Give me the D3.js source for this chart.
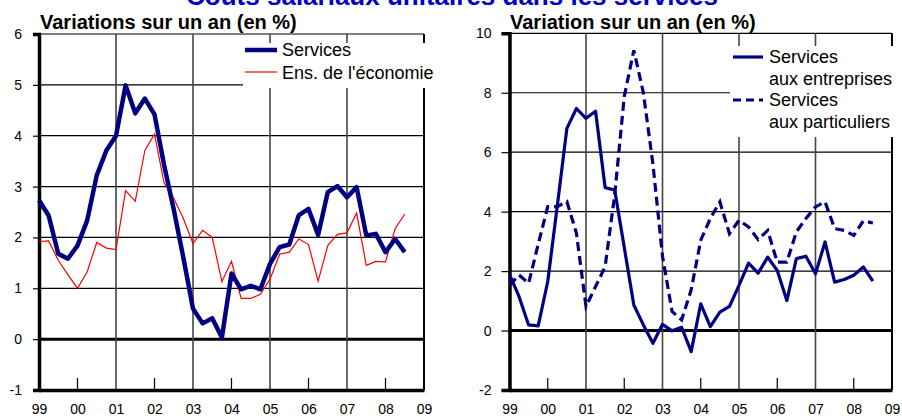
<!DOCTYPE html>
<html><head><meta charset="utf-8">
<script src="https://cdn.jsdelivr.net/npm/d3@7/dist/d3.min.js"></script>
<style>
html,body{margin:0;padding:0;background:#fff;}
svg{display:block;font-family:"Liberation Sans",Arial,sans-serif;}
</style></head>
<body>
<svg id="c" width="902" height="416"></svg>
<script>
const mainTitle = "Coûts salariaux unitaires dans les services";
const leftTitle = "Variations sur un an (en %)";
const rightTitle = "Variation sur un an (en %)";

const quarters = [
 "1999T1","1999T2","1999T3","1999T4","2000T1","2000T2","2000T3","2000T4",
 "2001T1","2001T2","2001T3","2001T4","2002T1","2002T2","2002T3","2002T4",
 "2003T1","2003T2","2003T3","2003T4","2004T1","2004T2","2004T3","2004T4",
 "2005T1","2005T2","2005T3","2005T4","2006T1","2006T2","2006T3","2006T4",
 "2007T1","2007T2","2007T3","2007T4","2008T1","2008T2","2008T3"];

const services = [2.73,2.43,1.68,1.58, 1.84,2.33,3.22,3.71, 4.00,4.99,4.44,4.73,
 4.42,3.42,2.55,1.60, 0.60,0.31,0.41,0.03, 1.29,0.98,1.05,0.98, 1.48,1.81,1.86,2.44,
 2.56,2.05,2.89,3.01, 2.79,2.99,2.04,2.07, 1.71,1.97,1.71];
const economie = [1.92,1.93,1.55,1.27, 1.00,1.32,1.90,1.79, 1.76,2.92,2.71,3.71,
 4.03,3.07,2.77,2.37, 1.88,2.14,2.00,1.13, 1.53,0.80,0.80,0.88, 1.18,1.67,1.71,1.97,
 1.86,1.14,1.84,2.06, 2.09,2.48,1.45,1.53, 1.52,2.17,2.46];
const entreprises = [1.89,1.14,0.19,0.16, 1.65,4.20,6.80,7.47, 7.14,7.38,4.81,4.73,
 2.80,0.86,0.19,-0.43, 0.21,-0.01,0.11,-0.71, 0.90,0.13,0.62,0.81, 1.52,2.27,1.93,2.47,
 2.02,1.01,2.42,2.50, 1.91,2.98,1.63,1.72, 1.86,2.14,1.66];
const particuliers = [1.53,1.87,1.59,2.90, 4.17,4.17,4.34,3.27, 0.81,1.48,2.15,4.56,
 7.87,9.43,8.00,5.60, 2.50,0.64,0.36,1.37, 3.04,3.77,4.33,3.26, 3.71,3.49,3.06,3.37,
 2.30,2.30,3.32,3.77, 4.16,4.33,3.43,3.37, 3.20,3.69,3.62];

const yearTicks = [1999,2000,2001,2002,2003,2004,2005,2006,2007,2008,2009];
const yearLabels = ["99","00","01","02","03","04","05","06","07","08","09"];
const leftYTicks = [-1,0,1,2,3,4,5,6];
const rightYTicks = [-2,0,2,4,6,8,10];
const leftLegend = ["Services","Ens. de l'économie"];
const rightLegend = [["Services","aux entreprises"],["Services","aux particuliers"]];

const NAVY = "#000080", RED = "#ff0000";
const svg = d3.select("#c");
const qx = q => +q.slice(0,4) + (+q.slice(5)-1)/4;

function panel(o){
  const x = d3.scaleLinear().domain([1999,2009]).range([o.x0,o.x1]);
  const y = d3.scaleLinear().domain(o.ydom).range([o.y0,o.y1]);
  const g = svg.append("g");
  g.selectAll(".hg").data(o.yticks).join("line")
    .attr("x1",x(1999)).attr("x2",x(2009))
    .attr("y1",d=>y(d)).attr("y2",d=>y(d))
    .attr("stroke","#000").attr("stroke-width",d=>d===0?3:1.2);
  g.selectAll(".vg").data(yearTicks.filter(d=>d%2===1 && d<2009)).join("line")
    .attr("x1",d=>x(d)).attr("x2",d=>x(d)).attr("y1",y(o.ydom[0])).attr("y2",y(o.ydom[1]))
    .attr("stroke","#444").attr("stroke-width",1.6);
  g.selectAll(".st").data(yearTicks.filter(d=>d%2===0)).join("line")
    .attr("x1",d=>x(d)).attr("x2",d=>x(d)).attr("y1",y(o.ydom[0])).attr("y2",y(o.ydom[0])-12)
    .attr("stroke","#000").attr("stroke-width",1.2);
  g.append("line").attr("x1",x(2009)).attr("x2",x(2009)).attr("y1",y(o.ydom[0])).attr("y2",y(o.ydom[1]))
    .attr("stroke","#000").attr("stroke-width",2);
  const ya = d3.axisLeft(y).tickValues(o.yticks).tickSize(o.tickLen).tickPadding(o.pad).tickFormat(d=>String(d));
  const yg = g.append("g").attr("transform",`translate(${x(1999)},0)`).call(ya);
  yg.select(".domain").attr("stroke","#000").attr("stroke-width",3.5);
  yg.selectAll(".tick line").attr("stroke","#000").attr("stroke-width",1.2);
  yg.selectAll("text").attr("font-size",14).attr("fill","#000");
  const xa = d3.axisBottom(x).tickValues(yearTicks).tickSize(0).tickPadding(14).tickFormat((d,i)=>yearLabels[i]);
  const xg = g.append("g").attr("transform",`translate(0,${y(o.ydom[0])})`).call(xa);
  xg.select(".domain").attr("stroke","#000").attr("stroke-width",3.5);
  xg.selectAll("text").attr("font-size",14).attr("fill","#000");
  return {x,y,g};
}

svg.append("text").attr("x",452).attr("y",5).attr("text-anchor","middle")
  .attr("font-size",26).attr("font-weight","bold").attr("fill","#0000cc").text(mainTitle);

// LEFT
const L = panel({x0:39,x1:424,y0:390,y1:34,ydom:[-1,6],yticks:leftYTicks,tickLen:6,pad:11});
svg.append("text").attr("x",40).attr("y",29).attr("font-size",20).attr("font-weight","bold").text(leftTitle);
L.g.append("rect").attr("x",243).attr("y",43).attr("width",197).attr("height",45).attr("fill","#fff");
const lineL = d3.line().x((d,i)=>L.x(qx(quarters[i]))).y(d=>L.y(d));
L.g.append("path").datum(economie).attr("d",lineL).attr("fill","none").attr("stroke",RED).attr("stroke-width",1.2);
L.g.append("path").datum(services).attr("d",lineL).attr("fill","none").attr("stroke",NAVY).attr("stroke-width",4.5).attr("stroke-linejoin","round");
L.g.append("line").attr("x1",245).attr("x2",277).attr("y1",50).attr("y2",50).attr("stroke",NAVY).attr("stroke-width",4.5);
L.g.append("line").attr("x1",245).attr("x2",277).attr("y1",72).attr("y2",72).attr("stroke",RED).attr("stroke-width",1.2);
L.g.append("text").attr("x",282).attr("y",56).attr("font-size",18).text(leftLegend[0]);
L.g.append("text").attr("x",282).attr("y",79).attr("font-size",18).text(leftLegend[1]);

// RIGHT
const R = panel({x0:509.5,x1:892,y0:390,y1:33.3,ydom:[-2,10],yticks:rightYTicks,tickLen:8,pad:10});
svg.append("text").attr("x",510).attr("y",29).attr("font-size",20).attr("font-weight","bold").text(rightTitle);
R.g.append("rect").attr("x",730).attr("y",46).attr("width",172).attr("height",91).attr("fill","#fff");
const lineR = d3.line().x((d,i)=>R.x(qx(quarters[i]))).y(d=>R.y(d));
R.g.append("path").datum(particuliers).attr("d",lineR).attr("fill","none").attr("stroke",NAVY).attr("stroke-width",3.2).attr("stroke-dasharray","9,5");
R.g.append("path").datum(entreprises).attr("d",lineR).attr("fill","none").attr("stroke",NAVY).attr("stroke-width",3.2).attr("stroke-linejoin","round");
R.g.append("line").attr("x1",733).attr("x2",763).attr("y1",57).attr("y2",57).attr("stroke",NAVY).attr("stroke-width",3.2);
R.g.append("line").attr("x1",733).attr("x2",763).attr("y1",100).attr("y2",100).attr("stroke",NAVY).attr("stroke-width",3.2).attr("stroke-dasharray","8,5");
R.g.append("text").attr("x",769).attr("y",63).attr("font-size",18).text(rightLegend[0][0]);
R.g.append("text").attr("x",769).attr("y",85).attr("font-size",18).text(rightLegend[0][1]);
R.g.append("text").attr("x",769).attr("y",106).attr("font-size",18).text(rightLegend[1][0]);
R.g.append("text").attr("x",769).attr("y",128).attr("font-size",18).text(rightLegend[1][1]);
</script>
</body></html>
